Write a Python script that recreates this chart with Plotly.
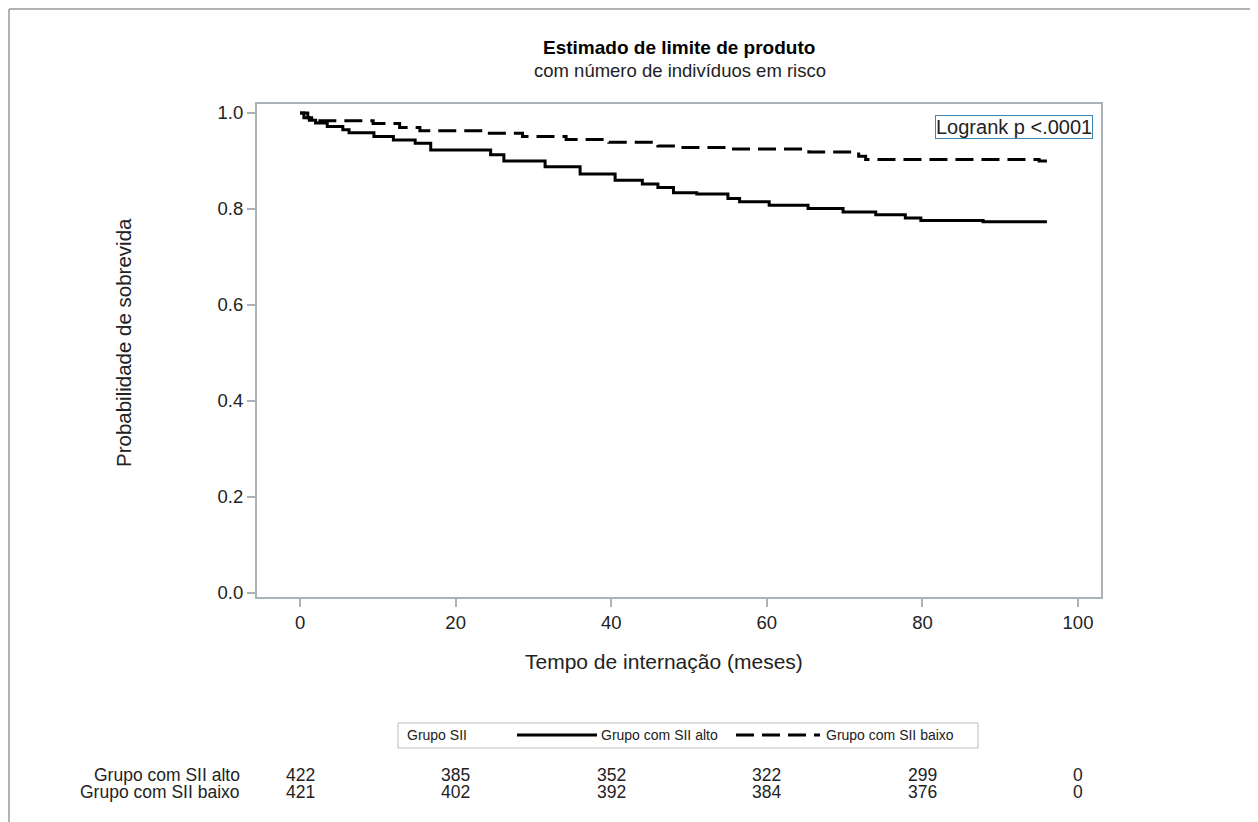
import plotly.graph_objects as go

# ---- data ----
t_alto = [0, 0.5, 1.2, 2, 3.5, 5.5, 6.3, 9.5, 12, 14.8, 16.8, 24.5, 26.2, 31.5, 36, 40.5,
          44, 46, 48, 51, 55, 56.5, 60.3, 65.3, 69.8, 74, 77.8, 79.8, 87.8, 96]
s_alto = [1.0, 0.99, 0.985, 0.979, 0.972, 0.965, 0.959, 0.951, 0.944, 0.937, 0.923, 0.913, 0.90,
          0.888, 0.873, 0.86, 0.852, 0.845, 0.834, 0.831, 0.822, 0.815, 0.808, 0.801, 0.794,
          0.788, 0.781, 0.776, 0.7735, 0.7735]
t_baixo = [0, 1, 1.5, 9.4, 12.8, 15.4, 24, 28.6, 34.2, 39.7, 46, 49, 55, 65.4, 71.8, 72.7, 95, 96]
s_baixo = [1.0, 0.99, 0.984, 0.978, 0.970, 0.963, 0.958, 0.951, 0.945, 0.939, 0.931, 0.928,
           0.925, 0.919, 0.910, 0.903, 0.900, 0.900]

risk_times = [0, 20, 40, 60, 80, 100]
risk_alto = [422, 385, 352, 322, 299, 0]
risk_baixo = [421, 402, 392, 384, 376, 0]
group_names = ["Grupo com SII alto", "Grupo com SII baixo"]

x_ticks = [0, 20, 40, 60, 80, 100]
y_ticks = [0.0, 0.2, 0.4, 0.6, 0.8, 1.0]

FONT = "Liberation Sans, Arial, sans-serif"
AXC = "#a9b3b8"
TXT = "#222222"

# page has an 8px body margin, so the figure occupies 8..1258 x 8..822 of the screenshot
OFF = 8
W, H = 1258 - OFF, 822 - OFF
PL, PR, PT, PB = 257, 1101, 104, 597      # plot box in screenshot pixels
L, R, T, B = PL - OFF, W - (PR - OFF), PT - OFF, H - (PB - OFF)
PW, PH = PR - PL, PB - PT


def px(x):
    return (x - PL) / PW


def py(y):
    return (PB - y) / PH


fig = go.Figure()
fig.add_trace(go.Scatter(x=t_alto, y=s_alto, mode="lines", line_shape="hv",
                         line=dict(color="black", width=3), name=group_names[0],
                         showlegend=False))
fig.add_trace(go.Scatter(x=t_baixo, y=s_baixo, mode="lines", line_shape="hv",
                         line=dict(color="black", width=3, dash="18px,8px"), name=group_names[1],
                         showlegend=False))

ann = []
# title
ann.append(dict(x=px(679), y=py(48), xref="paper", yref="paper", text="<b>Estimado de limite de produto</b>",
                showarrow=False, font=dict(size=19, color="black", family=FONT), xanchor="center", yanchor="middle"))
ann.append(dict(x=px(680), y=py(71), xref="paper", yref="paper", text="com número de indivíduos em risco",
                showarrow=False, font=dict(size=18.5, color=TXT, family=FONT), xanchor="center", yanchor="middle"))
# axis titles
ann.append(dict(x=px(664), y=py(661), xref="paper", yref="paper", text="Tempo de internação (meses)",
                showarrow=False, font=dict(size=21, color=TXT, family=FONT), xanchor="center", yanchor="middle"))
ann.append(dict(x=px(123), y=py(343), xref="paper", yref="paper", text="Probabilidade de sobrevida",
                textangle=-90, showarrow=False, font=dict(size=20.5, color=TXT, family=FONT),
                xanchor="center", yanchor="middle"))
# logrank box
ann.append(dict(x=px(1093), y=py(115), xref="paper", yref="paper", text="Logrank p <.0001",
                showarrow=False, font=dict(size=20, color=TXT, family=FONT), xanchor="right", yanchor="top",
                bordercolor="#3d86b5", borderwidth=1, borderpad=0, bgcolor="white"))

# at-risk table
RF = dict(size=17.5, color=TXT, family=FONT)
for name, vals, yy in [(group_names[0], risk_alto, 775), (group_names[1], risk_baixo, 792)]:
    ann.append(dict(x=px(241), y=py(yy), xref="paper", yref="paper", text=name, showarrow=False,
                    font=RF, xanchor="right", yanchor="middle", borderpad=0))
    for tt, v in zip(risk_times, vals):
        ann.append(dict(x=tt, y=py(yy), xref="x", yref="paper", text=str(v), showarrow=False,
                        font=RF, xanchor="center", yanchor="middle", borderpad=0))

# legend (manual)
LEGF = dict(size=14, color=TXT, family=FONT)
ann.append(dict(x=px(437), y=py(735), xref="paper", yref="paper", text="Grupo SII", showarrow=False,
                font=LEGF, xanchor="center", yanchor="middle"))
ann.append(dict(x=px(599), y=py(735), xref="paper", yref="paper", text=group_names[0], showarrow=False,
                font=LEGF, xanchor="left", yanchor="middle"))
ann.append(dict(x=px(824), y=py(735), xref="paper", yref="paper", text=group_names[1], showarrow=False,
                font=LEGF, xanchor="left", yanchor="middle"))

shapes = [
    dict(type="rect", xref="paper", yref="paper", x0=px(398), x1=px(978), y0=py(723), y1=py(748),
         line=dict(color="#b8bec2", width=1), fillcolor="rgba(0,0,0,0)"),
    dict(type="line", xref="paper", yref="paper", x0=px(517), x1=px(597), y0=py(735), y1=py(735),
         line=dict(color="black", width=3)),
    dict(type="line", xref="paper", yref="paper", x0=px(736), x1=px(820), y0=py(735), y1=py(735),
         line=dict(color="black", width=3, dash="18px,8px")),
    # outer frame (top & left)
    dict(type="line", xref="paper", yref="paper", x0=px(OFF + 1), x1=px(1258), y0=py(OFF + 1), y1=py(OFF + 1),
         line=dict(color="#9a9a9a", width=1.5)),
    dict(type="line", xref="paper", yref="paper", x0=px(OFF + 1), x1=px(OFF + 1), y0=py(OFF + 1), y1=py(822),
         line=dict(color="#9a9a9a", width=1.5)),
]

xmin = -5.53
xmax = xmin + PW / 7.78
ymin = -(597 - 593) / 480
ymax = ymin + PH / 480

fig.update_layout(
    width=W, height=H,
    margin=dict(l=L, r=R, t=T, b=B, autoexpand=False),
    paper_bgcolor="white", plot_bgcolor="white",
    annotations=ann, shapes=shapes,
    font=dict(family=FONT, color=TXT),
    xaxis=dict(range=[xmin, xmax], tickvals=x_ticks, ticktext=[str(v) for v in x_ticks],
               showgrid=False, zeroline=False, showline=True, linecolor=AXC, linewidth=2, mirror=True,
               ticks="outside", ticklen=8, tickcolor=AXC, tickwidth=2,
               tickfont=dict(size=18.5, color=TXT, family=FONT)),
    yaxis=dict(range=[ymin, ymax], tickvals=y_ticks, ticktext=[f"{v:.1f}" for v in y_ticks],
               showgrid=False, zeroline=False, showline=True, linecolor=AXC, linewidth=2, mirror=True,
               ticks="outside", ticklen=8, tickcolor=AXC, tickwidth=2,
               tickfont=dict(size=18.5, color=TXT, family=FONT)),
)

fig.write_html("out.html")
